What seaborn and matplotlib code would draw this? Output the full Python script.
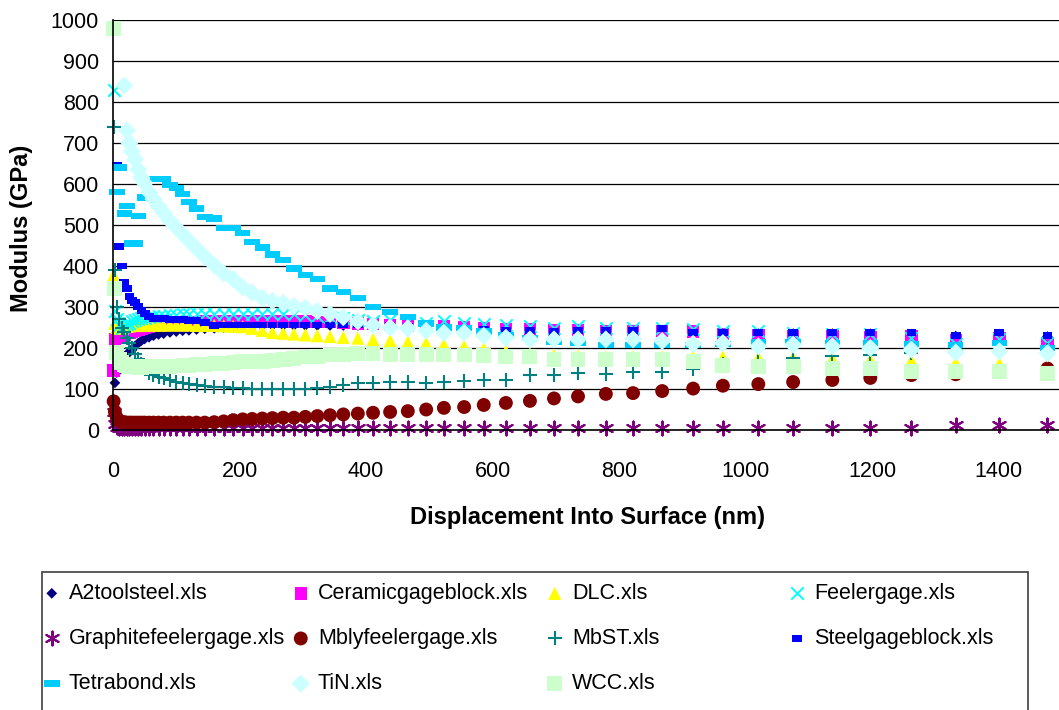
import numpy as np
import matplotlib.pyplot as plt
import seaborn as sns
from matplotlib.patches import Rectangle

nan = np.nan

# indentation depth (nm), shared by all files
depth = [1, 3, 6, 10, 14, 18, 22, 26, 30, 35,
         40, 45, 50, 57, 64, 72, 80, 90, 100, 110,
         120, 132, 145, 160, 175, 190, 205, 220, 236, 252,
         269, 286, 304, 323, 343, 364, 387, 411, 438, 466,
         495, 523, 555, 586, 621, 659, 697, 735, 779, 822,
         868, 917, 964, 1020, 1075, 1137, 1197, 1262, 1332, 1401,
         1477]

# modulus (GPa) for each file
a2toolsteel = [50, 115, 140, 160, 170, 180, 185, 190, 195, 205,
               212, 218, 222, 226, 230, 233, 235, 238, 240, 242,
               243, 245, 247, 248, 250, 250, 252, 253, 254, 255,
               255, 255, 255, 255, 255, 255, 255, 253, 252, 250,
               249, 248, 246, 244, 242, 241, 240, 241, 241, 241,
               244, 236, 235, 235, 235, 235, 235, 234, 229, 234,
               228]
ceramicgageblock = [145, 222, 225, 228, 230, 233, 236, 238, 240, 243,
                    245, 247, 249, 251, 253, 255, 257, 259, 260, 262,
                    263, 264, 265, 265, 265, 265, 265, 265, 265, 265,
                    265, 265, 265, 264, 263, 262, 260, 258, 256, 255,
                    253, 252, 250, 248, 246, 245, 244, 243, 242, 242,
                    241, 240, 234, 230, 229, 229, 226, 228, 218, 225,
                    212]
dlc = [378, 260, 250, 248, 250, 252, 253, 254, 255, 255,
       255, 255, 256, 256, 256, 256, 256, 256, 256, 256,
       256, 255, 255, 255, 254, 253, 252, 248, 243, 238,
       236, 234, 232, 230, 228, 226, 224, 221, 218, 215,
       212, 208, 204, 198, 192, 186, 182, 180, 178, 178,
       178, 178, 178, 177, 176, 174, 172, 170, 165, 162,
       158]
feelergage = [830, 290, 270, 255, 250, 255, 258, 262, 265, 268,
              270, 272, 274, 276, 277, 278, 279, 280, 281, 282,
              282, 282, 282, 282, 282, 282, 282, 282, 282, 282,
              282, 282, 280, 278, 276, 272, 268, 266, 268, 265,
              262, 267, 262, 258, 256, 254, 250, 254, 250, 250,
              250, 246, 242, 242, 237, 233, 233, 224, 210, 221,
              212]
graphitefeelergage = [45, 15, 8, 6, 5, 5, 4, 4, 5, 4,
                      4, 5, 4, 5, 4, 5, 5, 4, 5, 5,
                      5, 4, 5, 5, 5, 5, 5, 5, 5, 5,
                      5, 5, 5, 5, 5, 5, 5, 5, 5, 5,
                      5, 5, 5, 5, 5, 5, 5, 5, 5, 5,
                      5, 5, 5, 5, 5, 5, 5, 5, 12, 12,
                      12]
mblyfeelergage = [70, 45, 30, 22, 20, 19, 18, 18, 18, 18,
                  18, 18, 18, 18, 18, 18, 18, 18, 18, 18,
                  18, 18, 18, 19, 21, 24, 26, 27, 28, 29,
                  30, 30, 32, 34, 36, 38, 40, 42, 44, 46,
                  50, 54, 56, 61, 66, 71, 77, 82, 88, 90,
                  95, 101, 108, 112, 117, 122, 127, 134, 136, 144,
                  150]
mbst = [740, 390, 300, 270, 250, 240, 225, 212, 200, 185,
        172, 160, 150, 140, 134, 130, 127, 122, 118, 115,
        112, 110, 108, 106, 104, 103, 102, 101, 100, 100,
        100, 100, 101, 103, 106, 110, 114, 114, 118, 116,
        114, 116, 120, 121, 122, 133, 133, 140, 137, 142,
        142, 150, 160, 168, 175, 180, 183, 187, 190, 192,
        195]
steelgageblock = [nan, nan, 646, 447, 400, 360, 345, 325, 315, 310,
                  302, 292, 285, 276, 273, 272, 271, 270, 270, 269,
                  268, 268, 262, 255, 256, 256, 256, 256, 256, 256,
                  256, 256, 256, 256, 256, 256, 256, 254, 254, 252,
                  250, 250, 247, 245, 243, 243, 241, 243, 243, 243,
                  248, 237, 237, 237, 237, 237, 237, 237, 231, 237,
                  231]
tetrabond = [nan, nan, 580, 640, nan, 528, 546, nan, 455, 455,
             522, nan, 567, nan, 612, 612, 612, 598, 590, 575,
             557, 540, 520, 516, 493, 493, 480, 459, 445, 428,
             415, 394, 378, 368, 345, 337, 322, 300, 288, 276,
             260, 250, 248, 240, 232, 224, 215, 212, 208, 207,
             207, 208, 210, 214, 215, 213, 212, 210, 208, 212,
             200]
tin = [nan, nan, nan, nan, nan, 840, 730, 700, 679, 660,
       635, 615, 602, 580, 563, 545, 530, 510, 494, 478,
       462, 443, 423, 402, 382, 368, 348, 335, 322, 315,
       310, 302, 298, 290, 283, 275, 265, 256, 250, 248,
       242, 237, 237, 230, 225, 221, 221, 221, 221, 221,
       217, 210, 212, 204, 208, 204, 200, 196, 189, 192,
       187]
wcc = [980, 345, 190, 172, 165, 160, 157, 155, 154, 154,
       153, 153, 154, 154, 155, 155, 155, 155, 156, 157,
       158, 159, 160, 162, 163, 165, 166, 167, 168, 170,
       171, 175, 178, 180, 183, 185, 187, 187, 185, 184,
       184, 183, 183, 182, 180, 179, 171, 171, 171, 171,
       171, 167, 158, 154, 154, 150, 150, 142, 142, 142,
       137]

labels = ['A2toolsteel.xls', 'Ceramicgageblock.xls', 'DLC.xls', 'Feelergage.xls',
          'Graphitefeelergage.xls', 'Mblyfeelergage.xls', 'MbST.xls',
          'Steelgageblock.xls', 'Tetrabond.xls', 'TiN.xls', 'WCC.xls']
values = [a2toolsteel, ceramicgageblock, dlc, feelergage, graphitefeelergage,
          mblyfeelergage, mbst, steelgageblock, tetrabond, tin, wcc]

# marker styles (Excel default series look)
dash = [(-1, -0.4), (1, -0.4), (1, 0.4), (-1, 0.4)]
small_rect = [(-1, -0.7), (1, -0.7), (1, 0.7), (-1, 0.7)]
styles = [
    dict(marker='D', s=30, color='#000080'),
    dict(marker='s', s=80, color='#FF00FF'),
    dict(marker='^', s=90, color='#FFFF00'),
    dict(marker='x', s=80, color='#00FFFF', linewidth=1.4),
    dict(marker=(6, 2, 0), s=100, color='#800080', linewidth=1.5),
    dict(marker='o', s=100, color='#800000'),
    dict(marker='+', s=100, color='#008080', linewidth=1.5),
    dict(marker=small_rect, s=50, color='#0000FF'),
    dict(marker=dash, s=125, color='#00CCFF'),
    dict(marker='D', s=85, color='#CCFFFF'),
    dict(marker='s', s=115, color='#CCFFCC'),
]

sns.set_style('white')
plt.rcParams['font.family'] = ['Liberation Sans', 'DejaVu Sans']
for key in ['text.color', 'axes.labelcolor', 'xtick.color', 'ytick.color']:
    plt.rcParams[key] = 'black'

fig = plt.figure(figsize=(10.59, 7.10), dpi=100)
ax = fig.add_axes([113 / 1059, 1 - 430 / 710, 949 / 1059, 410 / 710])

for vals, lab, st in zip(values, labels, styles):
    st = dict(st)
    if st['marker'] in ('x', '+') or isinstance(st['marker'], tuple):
        st.setdefault('linewidth', 1.5)
    else:
        st['edgecolor'] = 'none'
        st['linewidth'] = 0
    sns.scatterplot(x=depth, y=vals, ax=ax, label=lab, clip_on=False, **st)

if ax.get_legend() is not None:
    ax.get_legend().remove()

ax.set_xlim(0, 1500)
ax.set_ylim(0, 1000)
ax.set_xticks(range(0, 1401, 200))
ax.set_yticks(range(0, 1001, 100))
ax.tick_params(axis='both', direction='out', length=4, width=1, color='black',
               labelsize=15.5, labelcolor='black')
ax.tick_params(axis='x', pad=18)
ax.tick_params(axis='y', pad=6)
ax.yaxis.grid(True, color='black', linewidth=0.9)
ax.set_axisbelow(True)
for side in ['top', 'right']:
    ax.spines[side].set_visible(False)
for side in ['left', 'bottom']:
    ax.spines[side].set_color('black')
    ax.spines[side].set_linewidth(1.2)

ax.set_xlabel('Displacement Into Surface (nm)', fontsize=17, fontweight='bold', color='black')
ax.set_ylabel('Modulus (GPa)', fontsize=17, fontweight='bold', color='black')
ax.xaxis.set_label_coords(0.5, -0.2146)
ax.yaxis.set_label_coords(-0.0959, 0.4927)
ax.xaxis.label.set_va('center')
ax.yaxis.label.set_va('center')

# legend: box plus four columns filled row by row
fig.add_artist(Rectangle((42 / 1059, -0.05), (1028 - 42) / 1059, 0.05 + (710 - 572) / 710,
                         transform=fig.transFigure, fill=False,
                         edgecolor='#404040', linewidth=1.2))
handles, hlabels = ax.get_legend_handles_labels()
col_x = [41, 290, 544, 786]
for c in range(4):
    idx = list(range(c, len(handles), 4))
    leg = fig.legend([handles[i] for i in idx], [hlabels[i] for i in idx],
                     loc='upper left', bbox_to_anchor=(col_x[c] / 1059, 1 - 583 / 710),
                     frameon=False, fontsize=15.5, borderpad=0, borderaxespad=0,
                     handlelength=1.0, handletextpad=0.3, labelspacing=1.12)
    for t in leg.get_texts():
        t.set_color('black')

fig.savefig('out.png', dpi=100, facecolor='white')
